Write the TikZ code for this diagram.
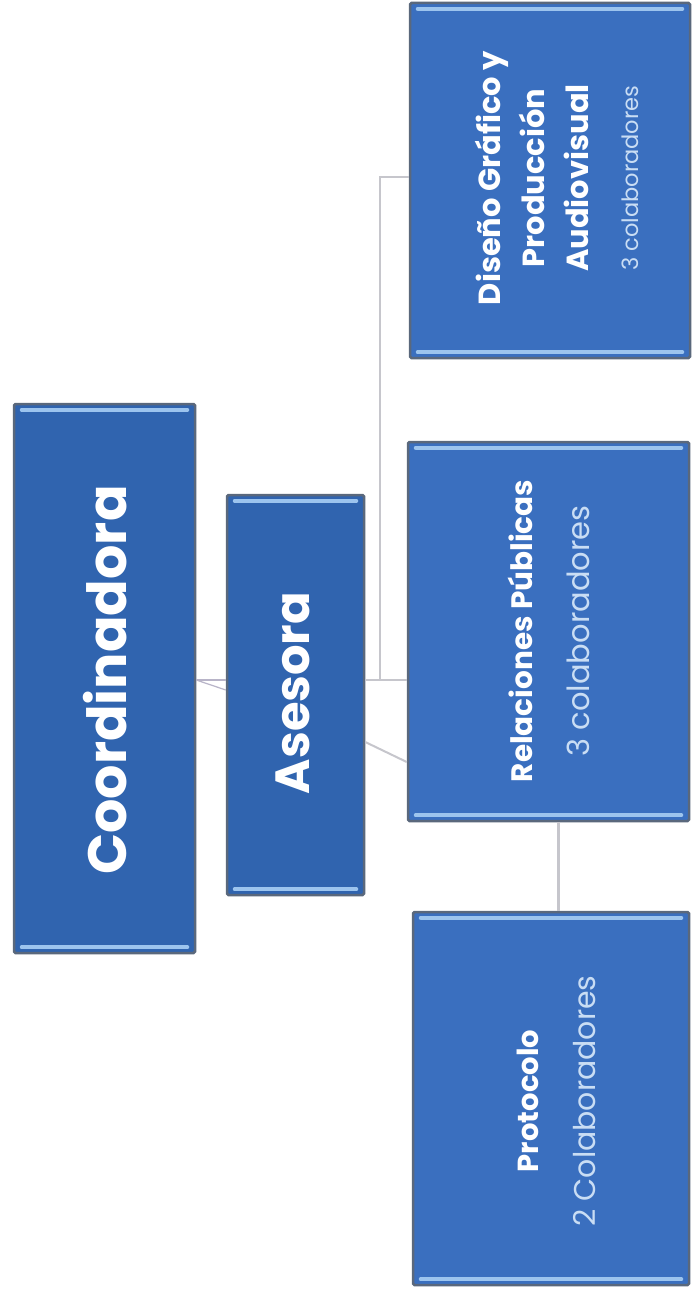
\documentclass[tikz,border=0pt]{standalone}
\usepackage{fontspec}
\setmainfont{Poppins}
\usetikzlibrary{calc}
\definecolor{boxblue}{HTML}{3A6FBF}
\definecolor{boxblueD}{HTML}{3064AF}
\definecolor{boxedge}{HTML}{5A687C}
\definecolor{hilite}{HTML}{9CC4EE}
\definecolor{subtxt}{HTML}{C9DDF4}
\definecolor{connc}{HTML}{C6C6CC}
\definecolor{connp}{HTML}{B8B4C8}
\tikzset{
  orgbox/.style={draw=boxedge, line width=2.5pt, fill=boxblue, inner sep=0pt, rounded corners=1.5pt},
  orgtext/.style={rotate=90, text=white, align=center, inner sep=0pt},
  hl/.style={draw=hilite, line width=4pt, line cap=round},
  conn/.style={draw=connc, line width=2pt},
  connthin/.style={draw=connp, line width=1.2pt},
}
\newcommand{\hlbars}[1]{%
  \draw[hl] ($(#1.north west)+(9,7)$) -- ($(#1.north east)+(-9,7)$);
  \draw[hl] ($(#1.south west)+(9,-7)$) -- ($(#1.south east)+(-9,-7)$);
}
\begin{document}
\begin{tikzpicture}[x=1pt,y=-1pt]
\useasboundingbox[fill=white] (0,0) rectangle (693,1297);

% boxes
\node[orgbox, fill=boxblueD, minimum width=181pt, minimum height=549pt] (coord) at (104.5,678.5) {};
\node[orgbox, fill=boxblueD, minimum width=137pt, minimum height=400pt] (ases) at (295.5,695) {};
\node[orgbox, minimum width=281pt, minimum height=379pt] (rp) at (548.5,631.5) {};
\node[orgbox, minimum width=280pt, minimum height=355pt] (dis) at (550,180.5) {};
\node[orgbox, minimum width=276pt, minimum height=373pt] (prot) at (551,1098.5) {};
\hlbars{coord}
\hlbars{ases}
\hlbars{rp}
\hlbars{dis}
\hlbars{prot}

% texts
\node[orgtext, font=\bfseries\fontsize{54}{60}\selectfont] (tcoord) at (105,680) {Coordinadora};
\node[orgtext, font=\bfseries\fontsize{48}{54}\selectfont] (tases) at (293,693) {Asesora};
\node[orgtext, font=\bfseries\fontsize{29.5}{57}\selectfont] (trp) at (549,631) {Relaciones Públicas\\
  \mdseries\color{subtxt}\fontsize{30.5}{57}\selectfont 3 colaboradores};
\node[orgtext, font=\bfseries\fontsize{30.5}{44}\selectfont] (tdis) at (557,178) {Diseño Gráfico y\\Producción\\Audiovisual\\[6pt]
  \mdseries\color{subtxt}\fontsize{22.5}{44}\selectfont 3 colaboradores};
\node[orgtext, font=\bfseries\fontsize{29}{57}\selectfont] (tprot) at (556,1101) {Protocolo\\
  \mdseries\color{subtxt}\fontsize{30}{57}\selectfont 2 Colaboradores};

% connectors
\coordinate (j) at (380,680);
\coordinate (jd) at (380,177);
\coordinate (k) at (558,860);
\draw[connthin] (coord.east |- j) -- (ases.west |- j);
\draw[connthin] (coord.east |- j) -- ($(ases.west |- j)+(0,10)$);
\draw[conn] (ases.east |- j) -- (rp.west |- j);
\draw[conn] (j) -- (jd) -- (dis.west |- jd);
\draw[conn] ($(ases.east |- j)+(0,62)$) -- ($(rp.west |- j)+(0,82)$);
\draw[conn, line width=3pt] (rp.south -| k) -- (prot.north -| k);
\end{tikzpicture}
\end{document}
